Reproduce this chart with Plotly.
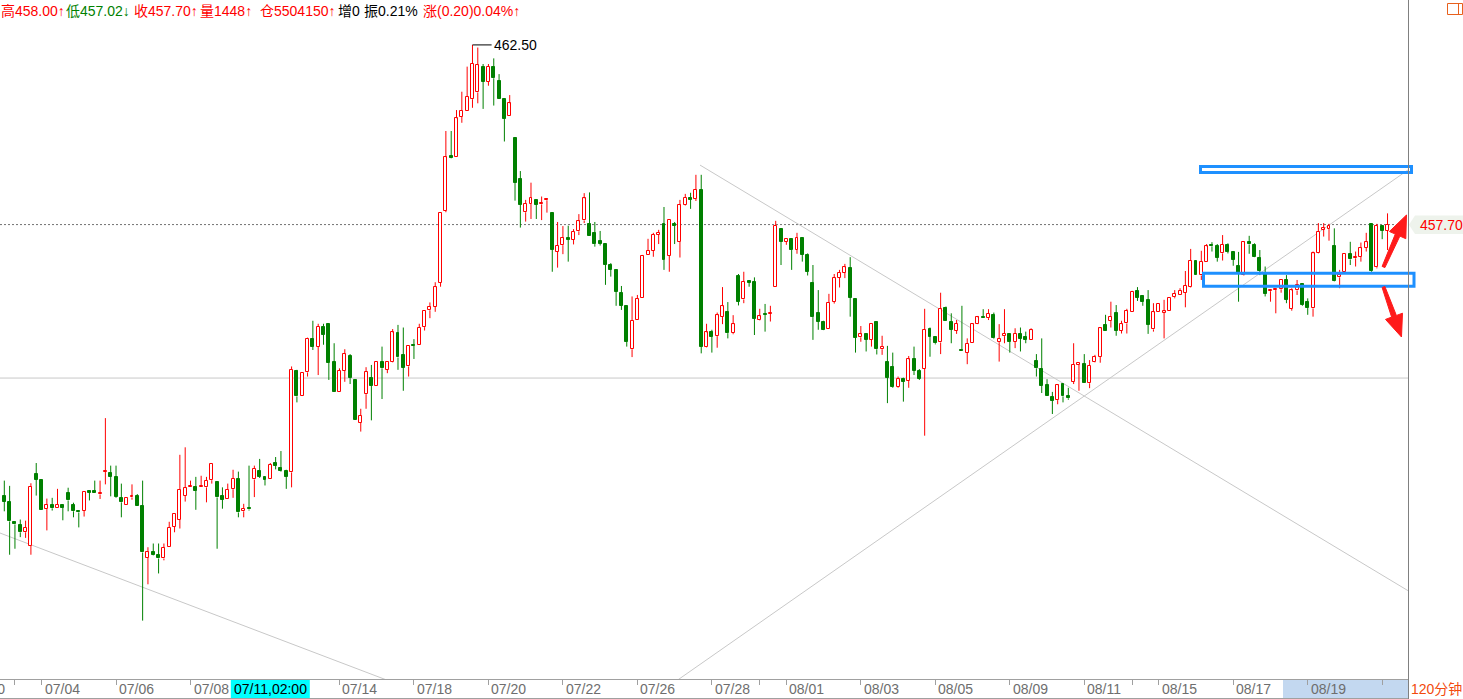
import plotly.graph_objects as go

# ---------------- data (120-minute bars) ----------------
first_index = -1
opens = [
    449.82,
    450.46, 450.30, 449.76, 449.68, 449.48, 449.12, 451.04, 450.88, 450.10, 450.22,
    450.12, 450.22, 450.54, 450.22, 450.02, 450.05, 450.56, 450.57, 450.49, 451.10,
    451.06, 450.96, 450.40, 450.21, 450.41, 450.45, 450.19, 448.80, 448.95, 448.86,
    448.78, 449.09, 449.63, 449.81, 450.46, 450.68, 450.70, 450.68, 450.68, 450.87,
    450.83, 450.46, 450.37, 450.63, 450.91, 450.04, 450.14, 450.89, 451.12, 450.96,
    450.89, 451.34, 451.20, 451.13, 451.08, 453.79, 453.11, 453.75, 454.65, 454.44,
    454.96, 455.05, 454.03, 453.24, 453.79, 454.19, 453.55, 452.41, 453.17, 453.60,
    453.40, 454.02, 453.82, 454.04, 454.80, 454.22, 453.91, 454.49, 454.47, 454.96,
    455.41, 455.51, 456.15, 458.07, 459.51, 459.51, 460.58, 460.74, 461.05, 461.23,
    461.92, 461.52, 461.90, 461.54, 461.06, 460.61, 460.02, 458.92, 458.03, 458.26,
    458.36, 458.24, 458.35, 458.01, 456.98, 457.15, 457.34, 457.30, 457.52, 457.81,
    457.72, 457.48, 457.26, 457.18, 456.61, 456.49, 455.88, 455.53, 454.37, 455.15,
    455.73, 456.90, 457.00, 457.43, 457.72, 456.87, 457.72, 457.24, 458.23, 458.41,
    458.39, 458.63, 454.44, 454.83, 454.72, 455.23, 455.37, 454.80, 456.33, 455.70,
    456.17, 456.16, 455.15, 455.31, 455.32, 456.04, 457.58, 457.24, 457.32, 457.03,
    457.34, 456.89, 456.14, 455.34, 455.10, 454.90, 455.64, 456.28, 456.42, 456.53,
    455.71, 454.69, 454.78, 454.63, 455.10, 454.37, 454.04, 453.89, 453.36, 453.58,
    453.52, 454.10, 453.80, 453.85, 454.90, 454.71, 454.55, 455.46, 455.11, 454.87,
    454.35, 454.28, 454.53, 455.05, 455.24, 455.20, 455.29, 454.56, 454.72, 454.78,
    454.57, 454.78, 454.70, 454.62, 454.06, 453.84, 453.42, 453.10, 453.01, 453.43,
    453.11, 453.50, 453.96, 453.98, 453.46, 454.02, 454.17, 455.02, 455.13, 455.34,
    454.87, 455.06, 455.37, 455.93, 455.79, 455.69, 454.90, 455.37, 455.35, 455.40,
    455.76, 455.82, 455.88, 456.04, 456.73, 456.34, 456.71, 457.14, 457.13, 456.93,
    457.16, 456.96, 456.60, 456.36, 457.24, 457.16, 456.80, 456.42, 455.92, 455.95,
    455.97, 456.22, 455.45, 455.94, 456.11, 455.63, 455.46, 456.93, 457.56, 457.58,
    457.13, 456.29, 456.44, 456.92, 456.80, 456.84, 457.08, 457.72, 456.56, 457.66,
    457.54,
]
highs = [
    450.80,
    450.86, 450.72, 449.77, 449.82, 449.79, 450.79, 451.33, 450.88, 450.38, 450.40,
    450.64, 450.22, 450.67, 450.27, 450.02, 450.58, 450.57, 450.86, 450.86, 452.53,
    451.26, 451.26, 450.78, 450.40, 450.76, 450.50, 450.86, 449.08, 449.18, 449.18,
    449.18, 449.76, 449.99, 451.55, 451.75, 450.86, 450.96, 450.99, 450.96, 451.31,
    450.83, 450.68, 450.78, 451.15, 451.10, 450.24, 451.26, 451.26, 451.44, 450.96,
    451.33, 451.49, 451.65, 451.15, 453.91, 453.82, 453.73, 454.68, 455.13, 455.05,
    455.05, 455.05, 454.53, 453.86, 454.37, 454.24, 453.55, 452.78, 453.89, 453.95,
    454.02, 454.44, 454.02, 454.91, 455.02, 454.95, 454.46, 454.64, 455.05, 455.39,
    455.62, 456.16, 458.00, 460.20, 460.20, 460.76, 461.25, 461.92, 462.50, 462.43,
    461.99, 461.99, 462.14, 461.72, 461.06, 461.16, 460.02, 459.13, 458.36, 458.82,
    458.36, 458.45, 458.41, 458.01, 457.77, 457.66, 457.67, 457.58, 457.98, 458.54,
    458.56, 457.77, 457.53, 457.18, 456.67, 456.49, 456.06, 455.53, 455.78, 455.82,
    456.89, 457.32, 457.48, 457.56, 458.17, 457.82, 457.77, 458.36, 458.52, 458.55,
    459.03, 459.03, 455.05, 454.89, 455.35, 456.03, 455.63, 455.28, 456.38, 456.44,
    456.17, 456.29, 455.45, 455.58, 455.53, 457.80, 457.58, 457.31, 457.32, 457.48,
    457.34, 456.93, 456.62, 455.95, 455.13, 455.85, 456.38, 456.49, 456.65, 456.83,
    455.71, 454.99, 454.78, 455.05, 455.11, 454.73, 454.46, 454.28, 453.64, 453.61,
    454.19, 454.44, 453.84, 455.45, 454.95, 454.71, 455.88, 455.51, 455.33, 455.15,
    455.53, 454.66, 455.06, 455.26, 455.44, 455.44, 455.35, 455.04, 455.44, 454.78,
    454.93, 454.95, 454.84, 454.93, 454.24, 454.66, 453.57, 453.23, 453.44, 453.43,
    453.34, 454.53, 453.98, 454.24, 454.08, 454.22, 454.95, 455.29, 455.64, 455.55,
    455.13, 455.45, 455.93, 456.03, 455.81, 455.95, 455.60, 455.57, 455.69, 455.73,
    455.95, 456.00, 456.46, 457.05, 456.73, 457.00, 457.18, 457.23, 457.18, 457.42,
    457.20, 456.98, 456.97, 457.26, 457.40, 457.20, 457.02, 456.58, 455.95, 455.97,
    456.22, 456.35, 456.00, 456.22, 456.11, 455.73, 456.98, 457.74, 457.74, 457.72,
    457.60, 456.49, 456.92, 457.24, 456.98, 457.22, 457.48, 457.72, 457.72, 457.66,
    458.00,
]
lows = [
    449.55,
    450.04, 448.88, 449.04, 449.35, 449.33, 448.88, 450.46, 450.08, 449.53, 450.06,
    450.12, 449.80, 450.04, 449.88, 449.61, 449.90, 450.33, 450.52, 450.37, 450.76,
    450.44, 450.40, 449.88, 450.21, 450.35, 450.17, 447.12, 448.09, 448.85, 448.38,
    448.73, 449.09, 449.48, 449.58, 450.30, 450.68, 450.08, 450.68, 450.28, 450.78,
    449.04, 450.11, 450.37, 450.40, 449.88, 449.88, 450.06, 450.42, 450.93, 450.73,
    450.89, 451.16, 451.10, 450.64, 450.68, 452.95, 453.11, 453.64, 454.35, 453.68,
    454.49, 453.55, 453.24, 453.24, 453.50, 453.44, 452.47, 452.17, 452.78, 452.47,
    453.40, 453.04, 453.73, 454.02, 453.82, 453.26, 453.64, 454.11, 454.47, 454.87,
    455.20, 455.37, 456.04, 458.03, 459.47, 459.51, 460.42, 460.74, 460.82, 460.94,
    460.79, 461.41, 460.88, 461.06, 459.92, 460.61, 458.34, 457.62, 457.78, 457.85,
    457.85, 457.82, 458.02, 456.44, 456.55, 456.91, 456.71, 457.17, 457.42, 457.74,
    457.40, 457.11, 457.14, 456.09, 456.31, 455.53, 455.42, 454.44, 454.16, 455.15,
    455.73, 456.90, 456.84, 457.18, 456.49, 456.44, 457.18, 456.82, 458.21, 458.12,
    458.33, 454.26, 454.42, 454.28, 454.41, 455.04, 454.66, 454.77, 455.54, 455.60,
    456.04, 454.75, 455.14, 454.84, 455.11, 456.04, 456.62, 457.16, 456.49, 456.92,
    456.71, 456.34, 454.62, 454.89, 454.88, 454.90, 455.59, 456.02, 456.27, 455.24,
    454.28, 454.57, 454.31, 454.44, 454.23, 454.22, 452.93, 453.34, 453.34, 452.97,
    453.34, 453.68, 453.55, 452.06, 454.17, 454.50, 454.24, 455.13, 454.53, 454.78,
    454.33, 453.97, 454.53, 455.04, 455.20, 455.15, 454.64, 454.04, 454.53, 454.28,
    454.40, 454.31, 454.53, 454.62, 453.64, 453.20, 453.11, 452.64, 452.90, 452.95,
    453.02, 453.44, 453.26, 453.46, 453.33, 454.01, 454.01, 454.87, 454.95, 454.73,
    454.79, 454.79, 455.37, 455.66, 455.53, 454.78, 454.84, 455.37, 454.66, 455.40,
    455.73, 455.82, 455.49, 456.02, 456.34, 456.22, 456.71, 456.98, 456.71, 456.74,
    456.93, 456.60, 455.64, 456.34, 456.92, 456.83, 456.35, 455.78, 455.64, 455.33,
    455.88, 455.60, 455.40, 455.82, 455.53, 455.29, 455.24, 456.92, 457.38, 457.27,
    456.18, 456.00, 456.44, 456.62, 456.58, 456.71, 456.98, 456.44, 456.53, 457.31,
    457.02,
]
closes = [
    450.62,
    450.30, 449.77, 449.69, 449.48, 449.60, 450.69, 450.88, 450.08, 450.21, 450.12,
    450.21, 450.14, 450.33, 450.04, 450.01, 450.56, 450.54, 450.52, 450.51, 451.12,
    450.97, 450.42, 450.28, 450.40, 450.45, 450.17, 448.94, 448.95, 448.86, 448.78,
    449.06, 449.60, 449.97, 450.62, 450.66, 450.70, 450.59, 450.70, 450.85, 451.31,
    450.41, 450.35, 450.62, 450.91, 450.01, 450.11, 450.09, 451.18, 450.96, 450.88,
    451.29, 451.26, 451.12, 450.97, 453.82, 453.11, 453.73, 454.65, 454.44, 454.97,
    454.76, 454.01, 453.24, 453.79, 454.24, 453.60, 452.47, 452.59, 453.76, 453.40,
    454.02, 453.86, 454.02, 454.82, 454.15, 453.88, 454.46, 454.46, 454.95, 455.39,
    455.50, 456.03, 458.00, 459.50, 459.49, 460.54, 460.74, 461.11, 461.99, 461.96,
    461.52, 461.92, 461.61, 461.06, 460.52, 460.94, 458.82, 458.23, 458.25, 458.41,
    458.23, 458.29, 458.37, 457.03, 457.13, 457.34, 457.30, 457.50, 457.79, 458.40,
    457.40, 457.18, 457.19, 456.63, 456.49, 455.91, 455.53, 454.57, 455.13, 455.71,
    456.86, 457.00, 457.42, 457.48, 456.76, 457.82, 457.67, 458.22, 458.41, 458.37,
    458.63, 454.44, 454.82, 454.71, 455.28, 455.52, 454.80, 455.04, 455.64, 456.17,
    456.15, 455.19, 455.25, 455.29, 455.34, 457.67, 457.24, 457.31, 457.02, 457.34,
    456.90, 456.44, 455.23, 455.11, 454.89, 455.61, 456.27, 456.41, 456.56, 455.74,
    454.68, 454.77, 454.63, 455.05, 454.37, 454.44, 453.61, 453.36, 453.57, 453.50,
    454.10, 453.80, 453.58, 454.89, 454.71, 454.53, 455.44, 455.13, 454.89, 455.05,
    454.33, 454.51, 455.04, 455.22, 455.20, 455.31, 454.66, 454.64, 454.78, 454.57,
    454.78, 454.65, 454.62, 454.88, 453.86, 453.39, 453.11, 452.99, 453.41, 453.11,
    453.06, 453.95, 453.98, 453.46, 453.93, 454.16, 454.93, 454.87, 455.23, 454.87,
    455.04, 455.39, 455.90, 455.75, 455.63, 455.03, 455.36, 455.57, 455.37, 455.73,
    455.85, 455.93, 456.06, 456.73, 456.34, 456.70, 457.12, 457.12, 456.82, 457.16,
    456.98, 456.76, 456.41, 457.23, 457.17, 456.84, 456.47, 455.85, 455.94, 455.97,
    456.22, 455.69, 455.94, 456.09, 455.55, 455.47, 456.93, 457.51, 457.60, 457.67,
    456.19, 456.35, 456.92, 456.77, 456.84, 457.07, 457.23, 456.47, 457.66, 457.54,
    457.70,
]

tick_index = [-7, 7, 21, 35, 63, 77, 91, 105, 119, 133, 147, 161, 175, 189, 203, 217, 231, 245]
tick_labels = ["06/30", "07/04", "07/06", "07/08", "07/14", "07/18", "07/20", "07/22", "07/26",
               "07/28", "08/01", "08/03", "08/05", "08/09", "08/11", "08/15", "08/17", "08/19"]
minor_tick_index = [2, 142, 212, 259]
cursor_index = 50
cursor_label = "07/11,02:00"

last_close = 457.70
reference_level = 453.60

trend_lines = [
    [(-0.81, 449.46), (71.75, 445.54)],
    [(130.77, 459.29), (263.85, 447.92)],
    [(126.64, 445.54), (263.85, 459.16)],
]

RED = "#ff0000"
GREEN = "#008000"
BLACK = "#000000"
header = [
    ("高458.00↑", RED, 0),
    ("低457.02↓", GREEN, 65),
    ("收457.70↑", RED, 133),
    ("量1448↑", RED, 199),
    ("仓5504150↑", RED, 259),
    ("增0", BLACK, 337),
    ("振0.21%", BLACK, 363),
    ("涨(0.20)0.04%↑", RED, 422),
]

# ---------------- geometry ----------------
W, H = 1463, 699
ML, MR, MT, MB = 0, 55, 0, 20
PW, PH = W - ML - MR, H - MT - MB
x_range = [-0.81, 263.85]
y_range = [445.56, 463.70]
FONT = 'Liberation Sans, Arial, "Noto Sans CJK SC", sans-serif'


def fx(px):
    return (px - ML) / PW


def fy(py):
    return (MT + PH - py) / PH


def idx2paper(i):
    return (i - x_range[0]) / (x_range[1] - x_range[0])


def poly(points):
    return "M " + " L ".join(f"{fx(x):.5f},{fy(y):.5f}" for x, y in points) + " Z"


# ---------------- candles ----------------
xs = [first_index + k for k in range(len(opens))]
up = dict(x=[], base=[], h=[], wx=[], wy=[])
dn = dict(x=[], base=[], h=[], wx=[], wy=[])
MIN_BODY = 0.03
for x, o, hi, lo, c in zip(xs, opens, highs, lows, closes):
    top, bot = max(o, c), min(o, c)
    body = max(top - bot, MIN_BODY)
    d = up if c >= o else dn
    d["x"].append(x)
    d["base"].append(bot)
    d["h"].append(body)
    if hi > bot + body:
        d["wx"] += [x, x, None]
        d["wy"] += [hi, bot + body, None]
    if lo < bot:
        d["wx"] += [x, x, None]
        d["wy"] += [bot, lo, None]

fig = go.Figure()
fig.add_trace(go.Bar(x=up["x"], y=up["h"], base=up["base"], width=0.56,
                     marker=dict(color="white", line=dict(color=RED, width=1)),
                     hoverinfo="skip"))
fig.add_trace(go.Bar(x=dn["x"], y=dn["h"], base=dn["base"], width=0.56,
                     marker=dict(color=GREEN, line=dict(color=GREEN, width=1)),
                     hoverinfo="skip"))
fig.add_trace(go.Scatter(x=up["wx"], y=up["wy"], mode="lines",
                         line=dict(color=RED, width=1), hoverinfo="skip"))
fig.add_trace(go.Scatter(x=dn["wx"], y=dn["wy"], mode="lines",
                         line=dict(color=GREEN, width=1), hoverinfo="skip"))

shapes = []
# horizontal reference lines
shapes.append(dict(type="line", xref="paper", yref="y", x0=0, x1=1, y0=last_close, y1=last_close,
                   line=dict(color="#707070", width=1, dash="2px,2px"), layer="below"))
shapes.append(dict(type="line", xref="paper", yref="y", x0=0, x1=1, y0=reference_level, y1=reference_level,
                   line=dict(color="#c8c8c8", width=1), layer="below"))
# trend lines
for (a, b) in trend_lines:
    shapes.append(dict(type="line", xref="x", yref="y", x0=a[0], y0=a[1], x1=b[0], y1=b[1],
                       line=dict(color="#c8c8c8", width=1), layer="below"))
# max marker
hmax = max(highs)
imax = xs[highs.index(hmax)]
shapes.append(dict(type="line", xref="x", yref="y", x0=imax, x1=imax + 3.6, y0=hmax, y1=hmax,
                   line=dict(color=BLACK, width=1)))
# blue boxes
BLUE = "#1e90ff"
shapes.append(dict(type="rect", xref="paper", yref="paper", x0=fx(1200.5), x1=fx(1411.5),
                   y0=fy(172.5), y1=fy(166.5), line=dict(color=BLUE, width=3)))
shapes.append(dict(type="rect", xref="paper", yref="paper", x0=fx(1203.5), x1=fx(1414),
                   y0=fy(286.2), y1=fy(273.3), line=dict(color=BLUE, width=3)))
# red arrows
ARROW = "#ff1a1a"
up_arrow = [(1382.1, 266.4), (1395.3, 234.1), (1389.4, 231.5), (1406.5, 215.0),
            (1405.8, 238.7), (1399.9, 236.1), (1384.9, 267.6)]
dn_arrow = [(1382.1, 287.5), (1391.6, 317.1), (1385.5, 319.4), (1401.5, 337.0),
            (1402.5, 313.2), (1396.4, 315.5), (1384.9, 286.5)]
for pts in (up_arrow, dn_arrow):
    shapes.append(dict(type="path", xref="paper", yref="paper", path=poly(pts),
                       fillcolor=ARROW, line=dict(color=ARROW, width=1)))
# axis strip decorations
shapes.append(dict(type="rect", xref="paper", yref="paper", x0=fx(1283), x1=fx(1408),
                   y0=fy(698), y1=fy(680), fillcolor="#c3d8f0", line=dict(width=0), layer="below"))
cx = ML + idx2paper(cursor_index) * PW
shapes.append(dict(type="rect", xref="paper", yref="paper", x0=fx(cx - 39.5), x1=fx(cx + 39.5),
                   y0=fy(698), y1=fy(680), fillcolor="#00ffff", line=dict(width=0)))
shapes.append(dict(type="line", xref="paper", yref="paper", x0=0, x1=1, y0=fy(698.5), y1=fy(698.5),
                   line=dict(color="#a0a0a0", width=1)))
shapes.append(dict(type="line", xref="paper", yref="paper", x0=fx(1408.5), x1=fx(1408.5),
                   y0=fy(0), y1=fy(699), line=dict(color="#808080", width=1)))
# price tag
shapes.append(dict(type="path", xref="paper", yref="paper",
                   path=poly([(1409, 224.7), (1415, 215.5), (1463, 215.5), (1463, 234), (1415, 234)]),
                   fillcolor="#eef3ec", line=dict(width=0)))
# top-right icon
ORANGE = "#e8601c"
shapes.append(dict(type="rect", xref="paper", yref="paper", x0=fx(1447.5), x1=fx(1462.5),
                   y0=fy(14.5), y1=fy(3.5), line=dict(color=ORANGE, width=1)))
shapes.append(dict(type="line", xref="paper", yref="paper", x0=fx(1458.5), x1=fx(1458.5),
                   y0=fy(14.5), y1=fy(3.5), line=dict(color=ORANGE, width=1)))

annotations = []
for text, color, px in header:
    annotations.append(dict(text=text, xref="paper", yref="paper", x=fx(px), y=fy(11),
                            xanchor="left", yanchor="middle", showarrow=False,
                            font=dict(family=FONT, size=14, color=color), borderpad=0))
for i, lab in zip(tick_index, tick_labels):
    annotations.append(dict(text=lab, xref="paper", yref="paper", x=idx2paper(i), y=fy(689),
                            xanchor="left", yanchor="middle", showarrow=False, xshift=2,
                            font=dict(family=FONT, size=14, color="#6e6e6e"), borderpad=0))
annotations.append(dict(text=cursor_label, xref="paper", yref="paper", x=fx(cx), y=fy(689),
                        xanchor="center", yanchor="middle", showarrow=False,
                        font=dict(family=FONT, size=14, color=BLACK), borderpad=0))
annotations.append(dict(text="120分钟", xref="paper", yref="paper", x=fx(1410), y=fy(689),
                        xanchor="left", yanchor="middle", showarrow=False,
                        font=dict(family=FONT, size=14, color="#f24a0d"), borderpad=0))
annotations.append(dict(text=f"{last_close:.2f}", xref="paper", yref="paper", x=fx(1419), y=fy(224.7),
                        xanchor="left", yanchor="middle", showarrow=False,
                        font=dict(family=FONT, size=14, color=RED), borderpad=0))
annotations.append(dict(text=f"{hmax:.2f}", xref="x", yref="y", x=imax + 3.6, y=hmax,
                        xanchor="left", yanchor="middle", showarrow=False, xshift=1,
                        font=dict(family=FONT, size=14, color=BLACK), borderpad=0))

fig.update_layout(
    width=W, height=H, autosize=False,
    margin=dict(l=ML, r=MR, t=MT, b=MB),
    paper_bgcolor="white", plot_bgcolor="white",
    showlegend=False, barmode="overlay", bargap=0,
    xaxis=dict(range=x_range, showgrid=False, zeroline=False, showline=True,
               linecolor="#a0a0a0", linewidth=1, ticks="outside", ticklen=5,
               tickcolor="#a0a0a0", tickvals=tick_index + minor_tick_index,
               showticklabels=False, fixedrange=True),
    yaxis=dict(range=y_range, showgrid=False, zeroline=False, showline=False,
               showticklabels=False, ticks="", fixedrange=True),
    shapes=shapes, annotations=annotations,
    hovermode=False,
)

fig.write_html(
    "out.html",
    config={"displayModeBar": False},
    post_script="document.body.style.margin='0';document.body.style.overflow='hidden';",
)
